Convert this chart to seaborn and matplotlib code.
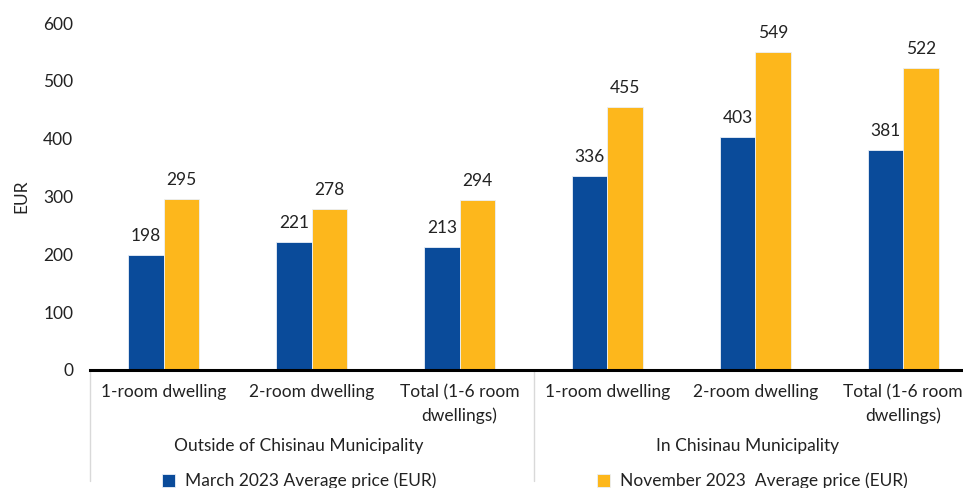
import matplotlib
matplotlib.use("Agg")
import matplotlib.pyplot as plt
import matplotlib.transforms as mtransforms
import seaborn as sns
import pandas as pd

# Average rental price of dwellings, EUR
regions = ["Outside of Chisinau Municipality", "In Chisinau Municipality"]
dwellings = ["1-room dwelling", "2-room dwelling", "Total (1-6 room\ndwellings)"]
series = ["March 2023 Average price (EUR)", "November 2023  Average price (EUR)"]
march = [198, 221, 213, 336, 403, 381]
november = [295, 278, 294, 455, 549, 522]

BLUE = "#0A4B9A"
ORANGE = "#FDB71C"

keys = [f"{r}|{d}" for r in regions for d in dwellings]
df = pd.DataFrame({
    "key": keys * 2,
    "series": [series[0]] * len(keys) + [series[1]] * len(keys),
    "value": march + november,
})

sns.set_theme(style="white")
plt.rcParams["font.family"] = ["Lato", "DejaVu Sans"]
FS = 12.5

fig = plt.figure(figsize=(9.63, 4.88), dpi=100)
W, H = 963, 488
ax = fig.add_axes([90 / W, (H - 370) / H, 887 / W, (370 - 23) / H])

sns.barplot(data=df, x="key", y="value", hue="series", order=keys,
            hue_order=series, palette=[BLUE, ORANGE], saturation=1,
            width=0.48, gap=0, edgecolor="#EAF0F8", linewidth=0.6, ax=ax,
            legend=True)

ax.set_ylim(0, 600)
ax.set_xlim(-0.5, 5.5)
ax.set_yticks(range(0, 601, 100))
ax.tick_params(axis="y", length=0, pad=12, labelsize=FS, labelcolor="#222222")
ax.tick_params(axis="x", length=0, pad=10, labelsize=FS, labelcolor="#222222")
ax.set_xticks(range(len(keys)))
ax.set_xticklabels(dwellings * 2, linespacing=1.55)
ax.set_xlabel("")
ax.set_ylabel("EUR", fontsize=FS, color="#222222", labelpad=10)

for s in ("top", "right", "left"):
    ax.spines[s].set_visible(False)
ax.spines["bottom"].set_color("black")
ax.spines["bottom"].set_linewidth(2.2)

# value labels above each bar
for cont in ax.containers:
    ax.bar_label(cont, labels=[f"{v:.0f}" for v in cont.datavalues],
                 padding=8, fontsize=FS, color="#222222")

# region labels and separators under the category axis
trans = mtransforms.blended_transform_factory(ax.transData, ax.transAxes)
for xc, r in zip((0.91, 3.945), regions):
    ax.text(xc, -0.22, r, transform=trans, ha="center", va="center",
            fontsize=FS, color="#222222")
for xpos in (-0.5, 2.5):
    ax.plot([xpos, xpos], [0, -0.32], transform=trans, color="#D9D9D9",
            lw=1, clip_on=False)

handles, labels = ax.get_legend_handles_labels()
ax.get_legend().remove()
fig.legend(handles, labels, loc="center left",
           bbox_to_anchor=(162 / W, 7 / H), bbox_transform=fig.transFigure,
           ncol=2, frameon=False, fontsize=FS, handlelength=0.75,
           handleheight=0.75, handletextpad=0.55, columnspacing=9.3,
           borderpad=0, borderaxespad=0, labelcolor="#222222")

fig.savefig("out.png", dpi=100)
